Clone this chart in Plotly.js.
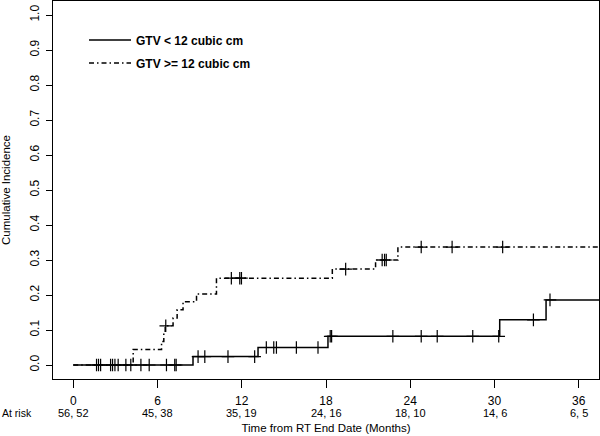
<!DOCTYPE html>
<html>
<head>
<meta charset="utf-8">
<script src="https://cdn.plot.ly/plotly-3.0.1.min.js"></script>
<style>html,body{margin:0;padding:0;background:#fff;}#chart{width:600px;height:436px;}</style>
</head>
<body>
<div id="chart"></div>
<script>
// ---- Data ----
var seriesNames = ["GTV < 12 cubic cm", "GTV >= 12 cubic cm"];

var smallTimes = [0, 8.53, 13.16, 18.14, 30.37, 33.67, 37.5];
var smallCI    = [0, 0.024, 0.050, 0.082, 0.129, 0.186, 0.186];
var largeTimes = [0, 4.27, 6.29, 6.45, 6.55, 7.11, 7.40, 7.82, 8.78, 10.2, 18.45, 21.53, 23.12, 37.5];
var largeCI    = [0, 0.044, 0.067, 0.090, 0.112, 0.134, 0.158, 0.181, 0.203, 0.248, 0.274, 0.300, 0.337, 0.337];

var smallCensor = [1.66, 1.80, 1.95, 2.66, 2.80, 2.97, 3.2, 3.75, 4.1, 4.82, 5.41, 6.64, 7.23, 7.33,
                   8.89, 9.37, 11.02, 12.92, 13.75, 14.28, 14.47, 15.89, 17.43,
                   18.3, 18.4, 22.76, 24.78, 25.92, 28.45, 30.30, 32.77, 33.95];
var largeCensor = [6.59, 11.26, 11.86, 11.98, 19.4, 22.0, 22.17, 22.29, 24.78, 26.98, 30.58];

var xTicks = [0, 6, 12, 18, 24, 30, 36];
var yTicks = [0, 0.1, 0.2, 0.3, 0.4, 0.5, 0.6, 0.7, 0.8, 0.9, 1.0];
var yTickText = ["0.0", "0.1", "0.2", "0.3", "0.4", "0.5", "0.6", "0.7", "0.8", "0.9", "1.0"];
var atRisk = ["56, 52", "45, 38", "35, 19", "24, 16", "18, 10", "14, 6", "6, 5"];

function stepAt(times, vals, t) {
  var v = vals[0];
  for (var i = 0; i < times.length; i++) { if (times[i] <= t) v = vals[i]; }
  return v;
}

var FONT = "Liberation Sans, Arial, sans-serif";

var traces = [
  {x: smallTimes, y: smallCI, type: "scatter", mode: "lines", name: seriesNames[0],
   line: {shape: "hv", color: "#000", width: 1.5}, legend: "legend", hoverinfo: "skip"},
  {x: largeTimes, y: largeCI, type: "scatter", mode: "lines", name: seriesNames[1],
   line: {shape: "hv", color: "#000", width: 1.5, dash: "5px,3px,1.5px,3px"}, legend: "legend2", hoverinfo: "skip"},
  {x: smallCensor, y: smallCensor.map(function(t){return stepAt(smallTimes, smallCI, t);}),
   type: "scatter", mode: "markers", showlegend: false, hoverinfo: "skip",
   marker: {symbol: "cross-thin", size: 9, color: "#000", line: {color: "#000", width: 1.2}}},
  {x: largeCensor, y: largeCensor.map(function(t){return stepAt(largeTimes, largeCI, t);}),
   type: "scatter", mode: "markers", showlegend: false, hoverinfo: "skip",
   marker: {symbol: "cross-thin", size: 9, color: "#000", line: {color: "#000", width: 1.2}}}
];

var annotations = atRisk.map(function(txt, i) {
  return {x: xTicks[i], xref: "x", y: -0.09, yref: "paper", text: txt, showarrow: false,
          xanchor: "center", yanchor: "middle", font: {family: FONT, size: 11, color: "#000"}};
});
annotations.push({x: -0.097, xref: "paper", y: -0.09, yref: "paper", text: "At risk", showarrow: false,
                  xanchor: "left", yanchor: "middle", font: {family: FONT, size: 10.5, color: "#000"}});

var layout = {
  width: 600, height: 436,
  margin: {l: 53, r: 1, t: 1, b: 57},
  paper_bgcolor: "#fff", plot_bgcolor: "#fff",
  font: {family: FONT, size: 12, color: "#000"},
  xaxis: {
    range: [-1.44, 37.44], tickvals: xTicks, ticktext: xTicks.map(String),
    ticks: "outside", ticklen: 8, tickwidth: 1, tickcolor: "#000", ticklabelstandoff: 3,
    showline: true, mirror: true, linecolor: "#000", linewidth: 1,
    showgrid: false, zeroline: false, automargin: false,
    tickfont: {family: FONT, size: 12},
    title: {text: "Time from RT End Date (Months)", font: {family: FONT, size: 11.5}, standoff: 16}
  },
  yaxis: {
    range: [-0.04, 1.04], tickvals: yTicks, ticktext: yTickText, tickangle: -90,
    ticks: "outside", ticklen: 6, tickwidth: 1, tickcolor: "#000", ticklabelstandoff: 2,
    showline: true, mirror: true, linecolor: "#000", linewidth: 1,
    showgrid: false, zeroline: false, automargin: false,
    tickfont: {family: FONT, size: 12},
    title: {text: "Cumulative Incidence", font: {family: FONT, size: 11.5}, standoff: 16}
  },
  legend: {x: 0.0568, xanchor: "left", y: 0.897, yanchor: "middle", bgcolor: "rgba(0,0,0,0)",
           itemwidth: 42, font: {family: FONT, size: 12, weight: 700}},
  legend2: {x: 0.0568, xanchor: "left", y: 0.836, yanchor: "middle", bgcolor: "rgba(0,0,0,0)",
           itemwidth: 42, font: {family: FONT, size: 12, weight: 700}},
  annotations: annotations,
  showlegend: true
};

Plotly.newPlot("chart", traces, layout, {staticPlot: true, displayModeBar: false});
</script>
</body>
</html>
